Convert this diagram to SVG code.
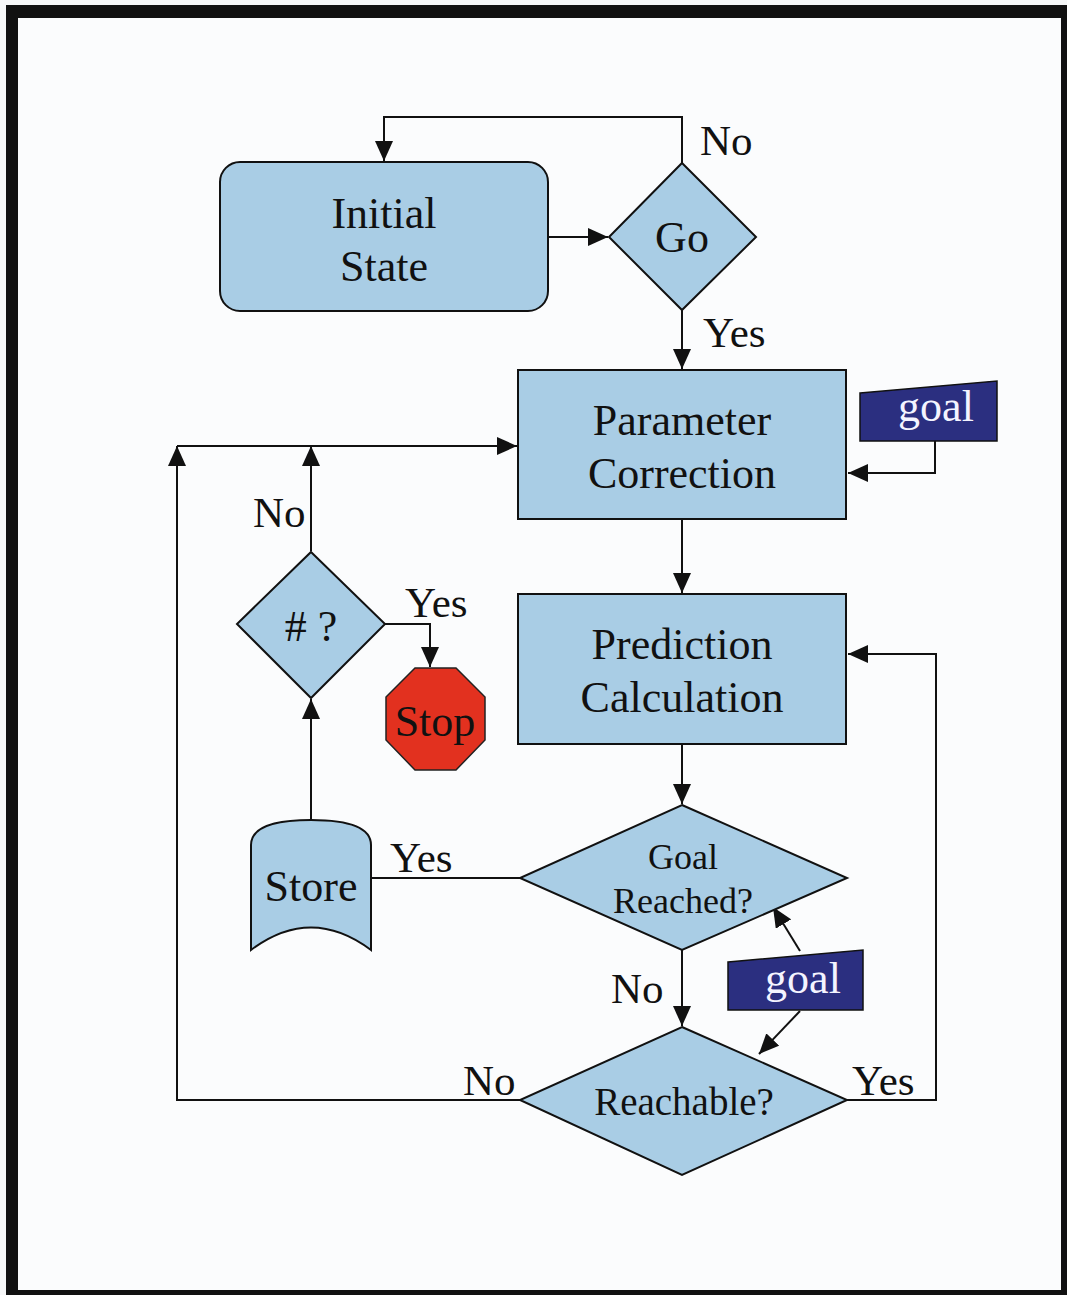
<svg xmlns="http://www.w3.org/2000/svg" width="1067" height="1295" viewBox="0 0 1067 1295">
  <style>
    .box { fill: #a9cde5; stroke: #111; stroke-width: 2; }
    .tag { fill: #2b2f80; stroke: #111; stroke-width: 1.5; }
    .stop { fill: #e2311f; stroke: #222; stroke-width: 1.5; }
    .lbl { font-family: "Liberation Serif", "Times New Roman", serif; font-size: 43px; fill: #111; }
    .node { font-family: "Liberation Serif", "Times New Roman", serif; font-size: 44px; fill: #111; text-anchor: middle; }
    .small { font-size: 36px; }
    .mid { font-size: 39px; }
    .white { fill: #f4f4ff; }
    .wire { fill: none; stroke: #111; stroke-width: 2; }
  </style>
  <defs>
    <marker id="arrow" viewBox="0 0 20 18" refX="20" refY="9" markerWidth="20" markerHeight="18" markerUnits="userSpaceOnUse" orient="auto">
      <path d="M0,0 L20,9 L0,18 Z" fill="#111"/>
    </marker>
  </defs>

  <!-- frame -->
  <rect x="0" y="0" width="1067" height="1295" fill="#f6f7f8"/>
  <rect x="6" y="5" width="1061" height="1290" fill="#111"/>
  <rect x="18" y="18" width="1043" height="1272" fill="#fbfcfd"/>

  <!-- connectors -->
  <g id="connectors">
    <path class="wire" d="M682,163 V117 H384 V161" marker-end="url(#arrow)"/>
    <path class="wire" d="M548,237 H608" marker-end="url(#arrow)"/>
    <path class="wire" d="M682,310 V369" marker-end="url(#arrow)"/>
    <path class="wire" d="M935,441 V473 H848" marker-end="url(#arrow)"/>
    <path class="wire" d="M682,519 V593" marker-end="url(#arrow)"/>
    <path class="wire" d="M682,744 V804" marker-end="url(#arrow)"/>
    <path class="wire" d="M682,950 V1026" marker-end="url(#arrow)"/>
    <path class="wire" d="M847,1100 H936 V654 H848" marker-end="url(#arrow)"/>
    <path class="wire" d="M520,1100 H177 V446" marker-end="url(#arrow)"/>
    <path class="wire" d="M177,446 H517" marker-end="url(#arrow)"/>
    <path class="wire" d="M311,551 V446" marker-end="url(#arrow)"/>
    <path class="wire" d="M385,624 H430 V667" marker-end="url(#arrow)"/>
    <path class="wire" d="M311,822 V699" marker-end="url(#arrow)"/>
    <path class="wire" d="M371,878 H520"/>
    <path class="wire" d="M800,951 L773,907" marker-end="url(#arrow)"/>
    <path class="wire" d="M800,1011 L759,1054" marker-end="url(#arrow)"/>
  </g>

  <!-- edge labels -->
  <g id="labels">
    <text class="lbl" x="700" y="155">No</text>
    <text class="lbl" x="703" y="347">Yes</text>
    <text class="lbl" x="253" y="527">No</text>
    <text class="lbl" x="405" y="617">Yes</text>
    <text class="lbl" x="390" y="872">Yes</text>
    <text class="lbl" x="611" y="1003">No</text>
    <text class="lbl" x="463" y="1095">No</text>
    <text class="lbl" x="852" y="1095">Yes</text>
  </g>

  <g id="initial-state">
    <rect class="box" x="220" y="162" width="328" height="149" rx="20"/>
    <text class="node" x="384" y="228">Initial</text>
    <text class="node" x="384" y="281">State</text>
  </g>

  <g id="go">
    <polygon class="box" points="682,163 756,237 682,310 609,237"/>
    <text class="node" x="682" y="252">Go</text>
  </g>

  <g id="parameter-correction">
    <rect class="box" x="518" y="370" width="328" height="149"/>
    <text class="node" x="682" y="435">Parameter</text>
    <text class="node" x="682" y="488">Correction</text>
  </g>

  <g id="goal-top">
    <polygon class="tag" points="860,393 997,381 997,441 860,441"/>
    <text class="node white" x="936" y="421">goal</text>
  </g>

  <g id="count-check">
    <polygon class="box" points="311,552 385,624 311,698 237,624"/>
    <text class="node" x="311" y="641">#&#160;?</text>
  </g>

  <g id="stop">
    <polygon class="stop" points="415,668 456,668 485,697 485,740 456,770 415,770 386,740 386,697"/>
    <text class="node" x="435" y="736">Stop</text>
  </g>

  <g id="prediction-calculation">
    <rect class="box" x="518" y="594" width="328" height="150"/>
    <text class="node" x="682" y="659">Prediction</text>
    <text class="node" x="682" y="712">Calculation</text>
  </g>

  <g id="store">
    <path class="box" d="M251,950 V845 Q251,820 311,820 Q371,820 371,845 V950 Q311,905 251,950 Z"/>
    <text class="node" x="311" y="901">Store</text>
  </g>

  <g id="goal-reached">
    <polygon class="box" points="682,805 847,878 682,950 520,878"/>
    <text class="node small" x="683" y="869">Goal</text>
    <text class="node small" x="683" y="913">Reached?</text>
  </g>

  <g id="goal-bottom">
    <polygon class="tag" points="728,962 863,950 863,1010 728,1010"/>
    <text class="node white" x="803" y="993">goal</text>
  </g>

  <g id="reachable">
    <polygon class="box" points="682,1027 847,1100 682,1175 520,1100"/>
    <text class="node mid" x="684" y="1115">Reachable?</text>
  </g>
</svg>
